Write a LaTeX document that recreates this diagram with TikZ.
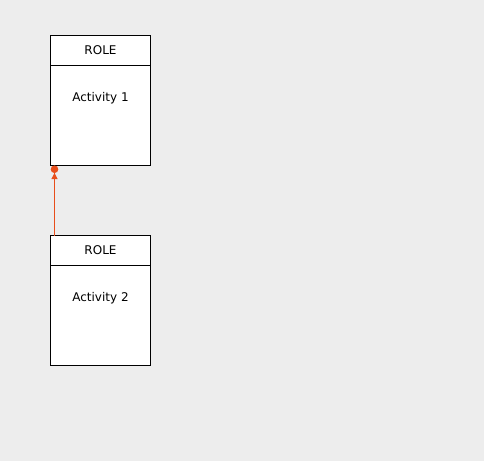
\documentclass[tikz,border=0pt]{standalone}
\usepackage{fontspec}
\setmainfont{DejaVu Sans}
\usepackage{tikz}
\usetikzlibrary{arrows.meta}
\definecolor{bgray}{HTML}{EDEDED}
\definecolor{linkred}{HTML}{E84E1B}
\tikzstyle{rolebox}=[draw=black,fill=white,line width=1pt,outer sep=0pt,minimum width=100pt,minimum height=30pt,inner sep=0pt,font=\fontsize{12}{14}\selectfont]
\tikzstyle{actbox}=[draw=black,fill=white,line width=1pt,outer sep=0pt,minimum width=100pt,minimum height=100pt,inner sep=0pt]
\tikzstyle{acttext}=[inner sep=0pt,font=\fontsize{12}{14}\selectfont]

\begin{document}
\begin{tikzpicture}[x=1pt,y=-1pt]
      \fill[bgray] (0,0) rectangle (484,461);
      \useasboundingbox (0,0) rectangle (484,461);

      \foreach \i/\y in {1/35.5,2/235.5}{
        \node[rolebox,anchor=north west] (r\i) at (50.5,\y) {ROLE};
        \node[actbox,anchor=north west] (b\i) at (r\i.south west) {};
        \node[acttext] (t\i) at ([yshift=-33pt]b\i.north) {Activity \i};
      }

      \coordinate (s) at ([xshift=4pt]r2.north west);
      \coordinate (e) at ([xshift=4pt]b1.south west);
      \draw[linkred,line width=1pt,-{Triangle[length=6pt,width=6pt]Circle[length=7.5pt]}] (s) -- (e);
    \end{tikzpicture}
\end{document}
